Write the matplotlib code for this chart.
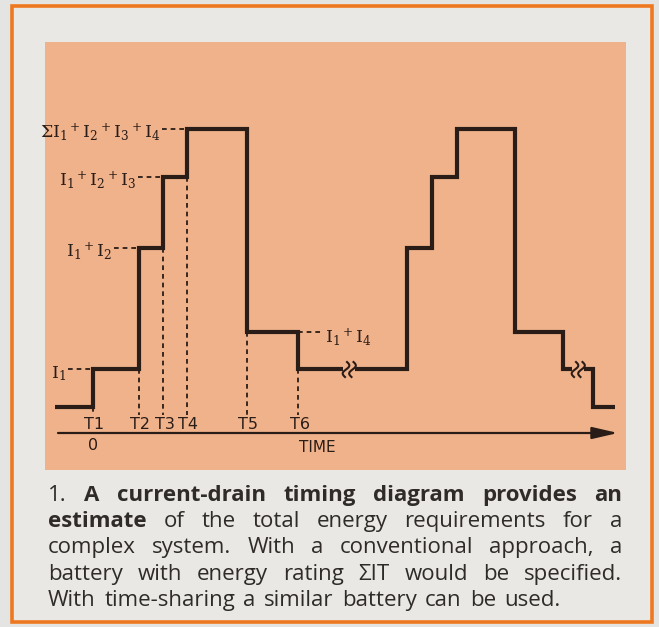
import numpy as np
import matplotlib
matplotlib.use("Agg")
from matplotlib import pyplot as plt
from matplotlib.patches import Rectangle

plt.rcParams['mathtext.fontset'] = 'dejavuserif'

W, H = 659, 627
ink = "#2a1c16"
peach = "#efb28b"
orange = "#ee7820"
paper = "#e9e8e5"

# current levels (arbitrary units)
i_1 = 3.8
i_12 = 15.9
i_123 = 23.0
i_all = 27.8
i_14 = 7.5

# current drain vs time, drawn as post-steps
cycle1_t = [-3.8, 0.0, 4.6, 7.0, 9.4, 15.4, 20.5, 25.0]
cycle1_i = [0, i_1, i_12, i_123, i_all, i_14, i_1, i_1]
cycle2_t = [26.2, 31.4, 33.9, 36.4, 42.2, 47.0, 47.9]
cycle2_i = [i_1, i_12, i_123, i_all, i_14, i_1, i_1]
tail_t = [49.1, 50.0, 52.2]
tail_i = [i_1, 0, 0]
break_t = [25.0, 47.9]
break_i = [i_1, i_1]

t_names = ["T1", "T2", "T3", "T4", "T5", "T6"]
t_marks = [0.0, 4.6, 7.0, 9.4, 15.4, 20.5]

level_labels = ["I$_1$", "I$_1$$^+$I$_2$", "I$_1$$^+$I$_2$$^+$I$_3$",
                "\u03a3I$_1$$^+$I$_2$$^+$I$_3$$^+$I$_4$"]
level_t = [0.0, 4.6, 7.0, 9.4]
level_i = [i_1, i_12, i_123, i_all]
right_label = "I$_1$$^+$I$_4$"

caption = ["1. *A *current-drain *timing *diagram *provides *an",
           "*estimate of the total energy requirements for a",
           "complex system. With a conventional approach, a",
           "battery with energy rating \u03a3IT would be specified.",
           "With time-sharing a similar battery can be used."]

fig = plt.figure(figsize=(W / 100, H / 100), dpi=100)
fig.patch.set_facecolor("#e4e4e2")
ax = fig.add_axes([0, 0, 1, 1])
ax.set_xlim(-9.3, 56.6)
ax.set_ylim(-22.0, 40.7)
ax.axis("off")


def box(x0, y0, x1, y1, **kw):
    # pixel box (top-left origin) -> axes fraction
    r = Rectangle((x0 / W, 1 - y1 / H), (x1 - x0) / W, (y1 - y0) / H,
                  transform=ax.transAxes, clip_on=False, **kw)
    ax.add_patch(r)


box(12, 6, 652, 622, facecolor=paper, edgecolor=orange, lw=2.6, zorder=0)
box(45, 42, 626, 470, facecolor=peach, edgecolor="none", zorder=0.5)

line_kw = dict(color=ink, lw=3.0, solid_joinstyle="miter", solid_capstyle="butt", zorder=3)
ax.step(cycle1_t, cycle1_i, where="post", **line_kw)
ax.step(cycle2_t, cycle2_i, where="post", **line_kw)
ax.step(tail_t, tail_i, where="post", **line_kw)

# break marks
s = np.linspace(-1, 1, 40)
for tb, ib in zip(break_t, break_i):
    for dx in (0.3, 0.95):
        ax.plot(tb + dx + 0.28 * np.sin(np.pi * s) + 0.1 * s, ib - 0.05 + 0.75 * s,
                color=ink, lw=1.5, zorder=3)

dash_kw = dict(color=ink, lw=1.3, linestyle=(0, (2.6, 2.2)), zorder=2)
prev = dict(zip(cycle1_t[1:], cycle1_i[:-1]))
nxt = dict(zip(cycle1_t, cycle1_i))
for name, tm in zip(t_names, t_marks):
    top = min(prev[tm], nxt[tm])
    ax.plot([tm, tm], [top, -0.8], **dash_kw)
    ax.text(tm + 0.15, -1.75, name, ha="center", va="center", fontsize=11.5,
            family="DejaVu Sans", color=ink)

lead = 2.5
for lab, tm, lv in zip(level_labels, level_t, level_i):
    ax.plot([tm - lead, tm], [lv, lv], **dash_kw)
    ax.text(tm - lead - 0.15, lv - 0.9, lab, ha="right", va="baseline",
            fontsize=12.5, family="DejaVu Serif", color=ink)

ax.plot([t_marks[5], t_marks[5] + lead], [i_14, i_14], **dash_kw)
ax.text(t_marks[5] + lead + 0.2, i_14 - 1.05, right_label, ha="left", va="baseline",
        fontsize=12.5, family="DejaVu Serif", color=ink)

# time axis
ax.annotate("", xy=(52.5, -2.6), xytext=(-3.5, -2.6),
            arrowprops=dict(arrowstyle="-|>,head_length=1.3,head_width=0.3",
                            mutation_scale=12, lw=1.6, color=ink, shrinkA=0, shrinkB=0))
ax.text(0, -3.85, "0", ha="center", va="center", fontsize=11.5, family="DejaVu Sans", color=ink)
ax.text(22.4, -4.1, "TIME", ha="center", va="center", fontsize=11, family="DejaVu Sans", color=ink)

# caption, justified by hand (last line stops short)
cap_font = ["Open Sans", "DejaVu Sans"]
cap_size = 16
cap_col = "#2f2b28"
x_left = 48
line_ends = [622, 622, 622, 622, 561]
baselines = [501, 527, 553, 580, 606]
renderer = fig.canvas.get_renderer()
for line, yb, x_right in zip(caption, baselines, line_ends):
    yf = 1 - yb / H
    words = line.split(" ")
    texts = []
    for w in words:
        bold = w.startswith("*")
        texts.append(ax.text(0, yf, w.lstrip("*"), transform=ax.transAxes, fontsize=cap_size,
                             family=cap_font, color=cap_col, va="baseline",
                             fontweight="bold" if bold else "normal"))
    widths = [t.get_window_extent(renderer).width for t in texts]
    gap = (x_right - x_left - sum(widths)) / (len(texts) - 1)
    x = x_left
    for t, w in zip(texts, widths):
        t.set_x(x / W)
        x += w + gap

fig.savefig("out.png", dpi=100, facecolor=fig.get_facecolor())
